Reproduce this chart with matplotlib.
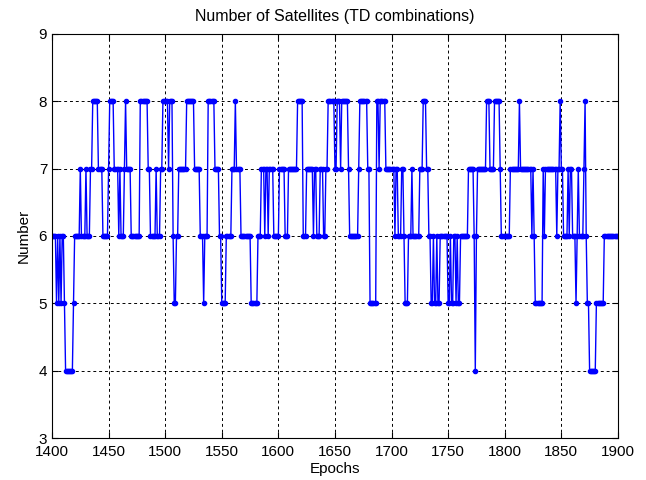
import numpy as np
import matplotlib
matplotlib.use("Agg")
import matplotlib.pyplot as plt

# Epoch where each level starts, and the number of satellites from then on
change_epochs = [1400, 1404, 1405, 1406, 1407, 1408, 1409, 1411, 1412, 1419, 1420, 1425, 1426, 1430, 1431,
                 1434, 1436, 1441, 1445, 1450, 1451, 1455, 1459, 1460, 1461, 1464, 1465, 1466, 1470, 1478,
                 1485, 1487, 1492, 1493, 1496, 1498, 1503, 1504, 1507, 1508, 1510, 1512, 1519, 1526, 1531,
                 1534, 1535, 1538, 1544, 1548, 1550, 1554, 1559, 1562, 1563, 1566, 1567, 1576, 1582, 1585,
                 1588, 1589, 1591, 1592, 1596, 1601, 1606, 1609, 1617, 1622, 1625, 1631, 1632, 1634, 1637,
                 1640, 1642, 1644, 1650, 1652, 1655, 1656, 1662, 1663, 1671, 1672, 1679, 1681, 1687, 1689,
                 1690, 1695, 1703, 1704, 1706, 1709, 1711, 1712, 1715, 1718, 1719, 1725, 1728, 1731, 1733,
                 1735, 1737, 1738, 1740, 1741, 1743, 1750, 1752, 1753, 1755, 1757, 1758, 1759, 1761, 1768,
                 1773, 1774, 1775, 1776, 1784, 1787, 1791, 1796, 1797, 1805, 1813, 1814, 1824, 1825, 1826,
                 1827, 1834, 1835, 1836, 1846, 1847, 1849, 1850, 1852, 1856, 1857, 1858, 1860, 1863, 1864,
                 1865, 1866, 1870, 1871, 1872, 1873, 1875, 1881, 1888]
levels = [6, 5, 6, 5, 6, 5, 6, 5, 4, 5, 6, 7, 6, 7, 6,
          7, 8, 7, 6, 7, 8, 7, 6, 7, 6, 7, 8, 7, 6, 8,
          7, 6, 7, 6, 7, 8, 7, 8, 6, 5, 6, 7, 8, 7, 6,
          5, 6, 8, 7, 6, 5, 6, 7, 8, 7, 7, 6, 5, 6, 7,
          6, 7, 6, 7, 6, 7, 6, 7, 8, 6, 7, 6, 7, 6, 7,
          6, 7, 8, 7, 8, 7, 8, 7, 6, 7, 8, 7, 5, 8, 7,
          8, 7, 6, 7, 6, 7, 6, 5, 6, 7, 6, 7, 8, 7, 6,
          5, 6, 5, 6, 5, 6, 5, 6, 5, 6, 5, 6, 5, 6, 7,
          6, 4, 6, 7, 8, 7, 8, 7, 6, 7, 8, 7, 6, 7, 6,
          5, 7, 6, 7, 6, 7, 8, 7, 6, 7, 6, 7, 6, 5, 6,
          7, 6, 7, 8, 6, 5, 4, 5, 6]
last_epoch = 1900

run_lengths = np.diff(change_epochs + [last_epoch + 1])
epochs = np.arange(change_epochs[0], last_epoch + 1)
n_sats = np.repeat(levels, run_lengths)

plt.rcParams['font.family'] = ['Liberation Sans', 'DejaVu Sans']

fig = plt.figure(figsize=(6.46, 4.8), dpi=100)
ax = fig.add_axes([0.0805, 0.0875, 0.876, 0.842])
ax.plot(epochs, n_sats, '.-', color='blue', linewidth=1.0, markersize=6)

ax.set_xlim(1400, 1900)
ax.set_ylim(3, 9)
ax.set_xticks(np.arange(1400, 1901, 50))
ax.set_yticks(np.arange(3, 10, 1))
ax.grid(True, color='black', linestyle=(0, (3, 3)), linewidth=0.7)
ax.tick_params(direction='in', top=True, right=True, labelsize=11, length=4)
ax.tick_params(axis='x', pad=5)
for sp in ax.spines.values():
    sp.set_linewidth(0.8)

ax.set_title("Number of Satellites (TD combinations)", fontsize=11.5, pad=9)
ax.set_xlabel("Epochs", fontsize=11, labelpad=2)
ax.set_ylabel("Number", fontsize=11, labelpad=6)

fig.savefig("out.png", dpi=100)
